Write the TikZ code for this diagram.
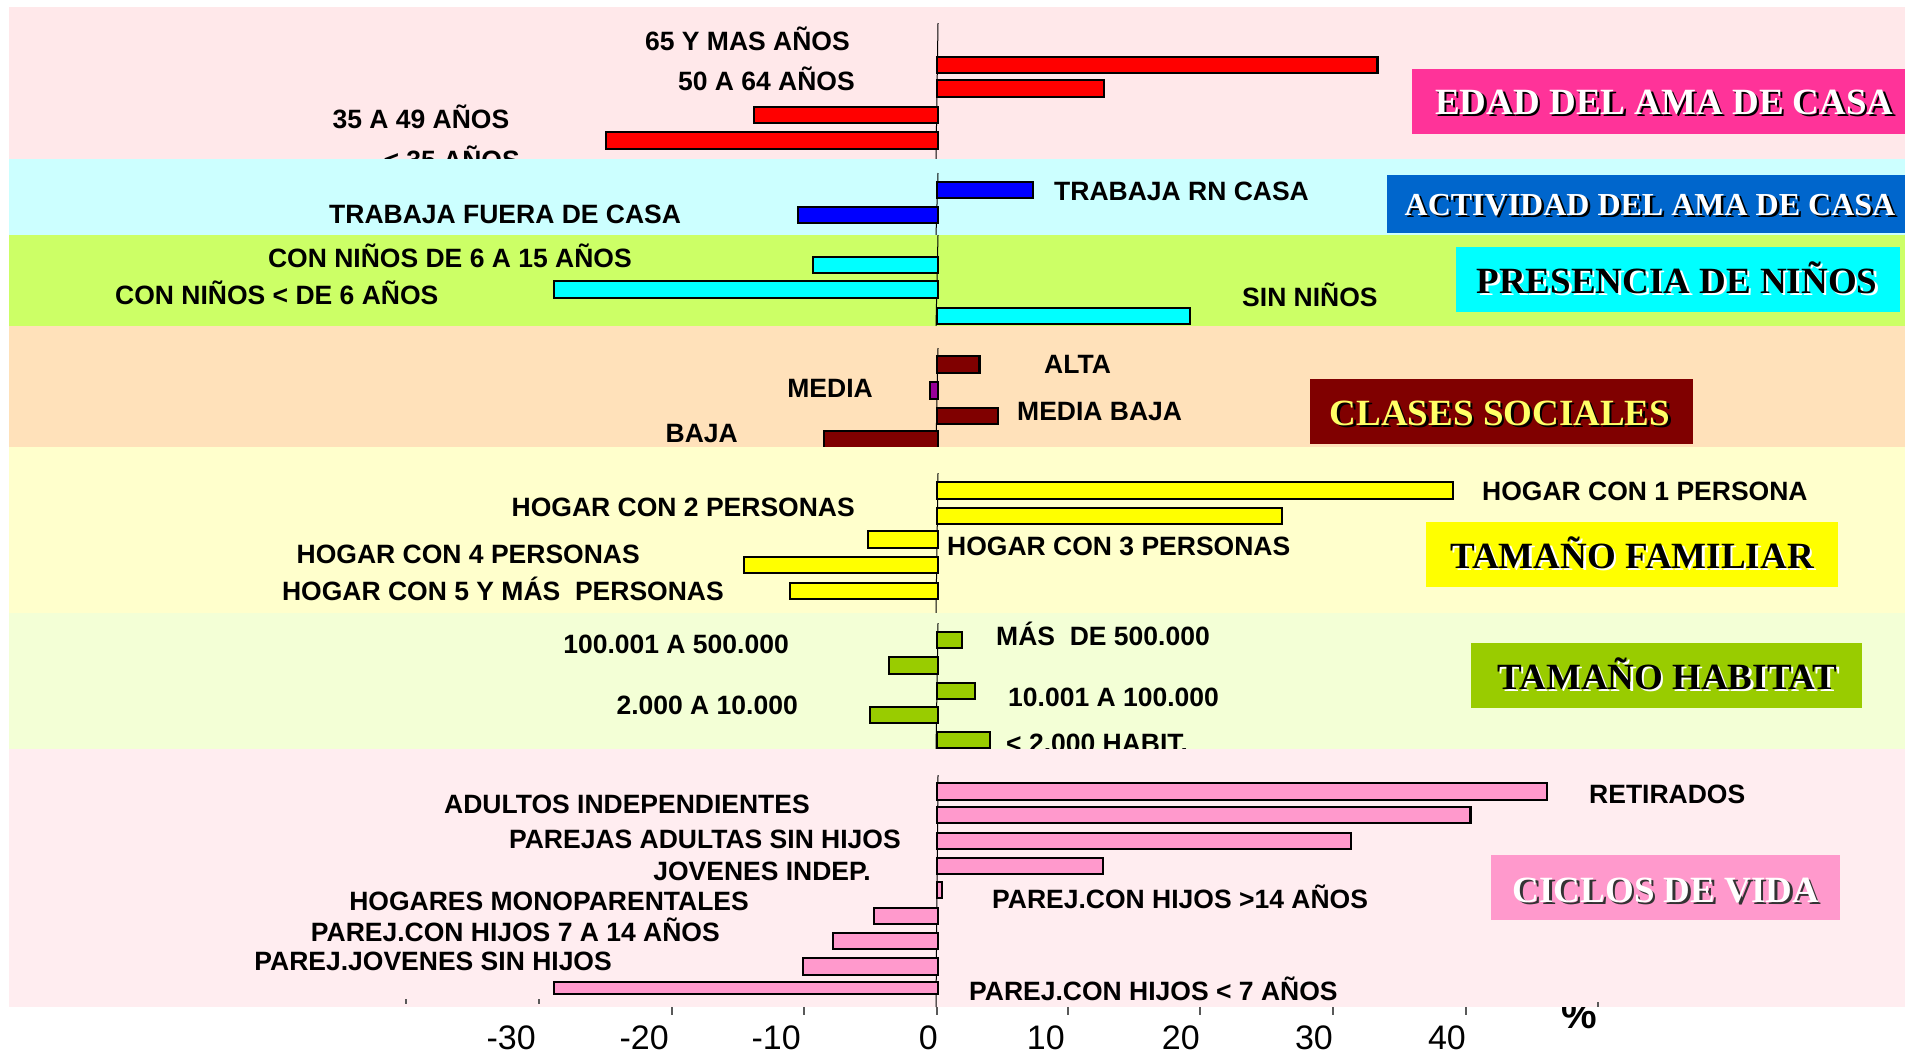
\documentclass[tikz,border=0pt]{standalone}
\usepackage{fontspec}
\setmainfont{Liberation Sans}
\newfontfamily\ttlfont{Liberation Serif}
\definecolor{bgA}{HTML}{FFE8EA}
\definecolor{bgB}{HTML}{CCFFFF}
\definecolor{bgC}{HTML}{CCFF66}
\definecolor{bgD}{HTML}{FFE1BA}
\definecolor{bgE}{HTML}{FFFFCC}
\definecolor{bgF}{HTML}{F3FFD6}
\definecolor{bgG}{HTML}{FFEDF0}
\definecolor{cRed}{HTML}{FF0000}
\definecolor{cBlue}{HTML}{0000FF}
\definecolor{cCyan}{HTML}{00FFFF}
\definecolor{cMaroon}{HTML}{800000}
\definecolor{cPurple}{HTML}{990099}
\definecolor{cYellow}{HTML}{FFFF00}
\definecolor{cGreen}{HTML}{99CC00}
\definecolor{cPink}{HTML}{FF99CC}
\definecolor{cMagenta}{HTML}{FF3399}
\definecolor{cActiv}{HTML}{0066CC}
\definecolor{cLtYellow}{HTML}{FFFF66}
\newcommand{\shtitle}[7]{%
  \node[#4, text=#6] (#1s) at (#2+2.5, #3+2.5) {#7};
  \node[#4, text=#5] (#1) at (#2, #3) {#7};}
\begin{document}
\begin{tikzpicture}[x=1pt, y=-1pt,
  bar/.style={draw=black, line width=2.3pt},
  lbl/.style={inner sep=0pt, font=\fontsize{26.5}{30}\selectfont\bfseries},
  lw/.style={lbl, anchor=base west},
  le/.style={lbl, anchor=base east},
  ttl/.style={inner sep=0pt, anchor=base, font=\ttlfont\fontsize{37}{40}\selectfont\bfseries},
  ttlsm/.style={inner sep=0pt, anchor=base, font=\ttlfont\fontsize{32}{36}\selectfont\bfseries},
  zero/.style={line width=1pt, black},
  tickm/.style={line width=1.5pt, black!65},
  num/.style={inner sep=0pt, anchor=base east, font=\fontsize{34}{38}\selectfont},
]
\useasboundingbox (0,0) rectangle (1905,1053);
\fill[white] (0,0) rectangle (1905,1053);

% ---------- Panel 1: EDAD ----------
\fill[bgA] (9,7) rectangle (1905,159);
\draw[zero] (938,23) -- (936,159);
\draw[bar, fill=cRed] (937,57) rectangle (1377.6,73);
\draw[bar, fill=cRed] (937,80) rectangle (1104,97);
\draw[bar, fill=cRed] (754,107) rectangle (938,123);
\draw[bar, fill=cRed] (606,132) rectangle (938,149);
\node[le] (l65) at (850,50) {65 Y MAS AÑOS};
\node[le] (l50) at (855,90.7) {50 A 64 AÑOS};
\node[le] (l35) at (509.5,128) {35 A 49 AÑOS};
\node[le] (l00) at (520,169) {< 35 AÑOS};
\fill[cMagenta] (1411.5,69) rectangle (1905,134);
\shtitle{tEdad}{1664.5}{114}{ttl}{white}{black}{EDAD DEL AMA DE CASA}

% ---------- Panel 2: ACTIVIDAD ----------
\fill[bgB] (9,159) rectangle (1905,235);
\draw[zero] (938,173) -- (936,235);
\draw[bar, fill=cBlue] (937,182) rectangle (1033,198);
\draw[bar, fill=cBlue] (798,207) rectangle (938,223);
\node[lw] (lrn) at (1054,200) {TRABAJA RN CASA};
\node[lw] (lfu) at (329,223) {TRABAJA FUERA DE CASA};
\fill[cActiv] (1387,175) rectangle (1905,233);
\shtitle{tActiv}{1650}{215}{ttlsm}{white}{black}{ACTIVIDAD DEL AMA DE CASA}

% ---------- Panel 3: PRESENCIA ----------
\fill[bgC] (9,235) rectangle (1905,326);
\draw[zero] (938,235) -- (936,326);
\draw[bar, fill=cCyan] (813,257) rectangle (938,273);
\draw[bar, fill=cCyan] (554,281) rectangle (938,298);
\draw[bar, fill=cCyan] (937,308) rectangle (1190,324);
\node[le] (ln615) at (632,267) {CON NIÑOS DE 6 A 15 AÑOS};
\node[lw] (ln6) at (115,304) {CON NIÑOS < DE 6 AÑOS};
\node[lw] (lsin) at (1242,306) {SIN NIÑOS};
\fill[cCyan] (1456,247) rectangle (1900,312);
\shtitle{tPres}{1677}{293}{ttl}{black}{white}{PRESENCIA DE NIÑOS}

% ---------- Panel 4: CLASES ----------
\fill[bgD] (9,326) rectangle (1905,447);
\draw[zero] (938,348) -- (936,447);
\draw[bar, fill=cMaroon] (937,356) rectangle (979.5,373);
\draw[bar, fill=cPurple, line width=1.5pt] (930,382) rectangle (938,399);
\draw[bar, fill=cMaroon] (937,408) rectangle (998,424);
\draw[bar, fill=cMaroon] (824,431) rectangle (938,450);
\node[lw] (lalta) at (1044,373) {ALTA};
\node[le] (lmedia) at (873,397) {MEDIA};
\node[lw] (lmb) at (1017,420) {MEDIA BAJA};
\node[le] (lbaja) at (738,442) {BAJA};
\fill[cMaroon] (1310,379) rectangle (1693,444);
\shtitle{tClases}{1500}{425}{ttl}{cLtYellow}{black}{CLASES SOCIALES}

% ---------- Panel 5: TAMAÑO FAMILIAR ----------
\fill[bgE] (9,447) rectangle (1905,613);
\draw[zero] (938,473) -- (936,613);
\draw[bar, fill=cYellow] (937,482) rectangle (1453,499);
\draw[bar, fill=cYellow] (937,508) rectangle (1282,524);
\draw[bar, fill=cYellow] (868,531) rectangle (938,548);
\draw[bar, fill=cYellow] (744,557) rectangle (938,573);
\draw[bar, fill=cYellow] (790,583) rectangle (938,599);
\node[lw] (lh1) at (1482,500.7) {HOGAR CON 1 PERSONA};
\node[le] (lh2) at (855,516.7) {HOGAR CON 2 PERSONAS};
\node[lw] (lh3) at (947,555) {HOGAR CON 3 PERSONAS};
\node[le] (lh4) at (640,563) {HOGAR CON 4 PERSONAS};
\node[le] (lh5) at (724,600.7) {HOGAR CON 5 Y MÁS~ PERSONAS};
\fill[cYellow] (1426,522) rectangle (1838,587);
\shtitle{tFam}{1632}{568}{ttl}{black}{white}{TAMAÑO FAMILIAR}

% ---------- Panel 6: TAMAÑO HABITAT ----------
\fill[bgF] (9,613) rectangle (1905,749);
\draw[zero] (938,623) -- (936,749);
\draw[bar, fill=cGreen] (937,632) rectangle (962,648);
\draw[bar, fill=cGreen] (889,657) rectangle (938,674);
\draw[bar, fill=cGreen] (937,683) rectangle (975,699);
\draw[bar, fill=cGreen] (870,707) rectangle (938,723);
\draw[bar, fill=cGreen] (937,732) rectangle (990,748);
\node[lw] (lm500) at (996,645) {MÁS~ DE 500.000};
\node[le] (l100) at (789,653) {100.001 A 500.000};
\node[lw] (l10) at (1008,706.7) {10.001 A 100.000};
\node[le] (l2) at (798,714) {2.000 A 10.000};
\node[lw] (lm2) at (1006,752) {< 2.000 HABIT.};
\fill[cGreen] (1471,643) rectangle (1862,708);
\shtitle{tHab}{1667.5}{689}{ttl}{black}{white}{TAMAÑO HABITAT}

% ---------- Percent label (partly hidden) ----------
\node[inner sep=0pt, anchor=base east, font=\fontsize{40}{44}\selectfont\bfseries] (pct) at (1597,1028) {\%};

% ---------- Panel 7: CICLOS DE VIDA ----------
\fill[bgG] (9,749) rectangle (1905,1007);
\draw[zero] (938,775) -- (936,1007);
\draw[bar, fill=cPink] (937,783) rectangle (1547,800);
\draw[bar, fill=cPink] (937,807) rectangle (1470.5,823);
\draw[bar, fill=cPink] (937,833) rectangle (1351,849);
\draw[bar, fill=cPink] (937,858) rectangle (1103,874);
\draw[bar, fill=cPink, line width=1.5pt] (937,882) rectangle (942,898);
\draw[bar, fill=cPink] (874,908) rectangle (938,924);
\draw[bar, fill=cPink] (833,933) rectangle (938,949);
\draw[bar, fill=cPink] (803,958) rectangle (938,975);
\draw[bar, fill=cPink] (554,982) rectangle (938,994);
\node[lw] (lret) at (1589,803) {RETIRADOS};
\node[le] (lai) at (810,813) {ADULTOS INDEPENDIENTES};
\node[le] (lpa) at (901,848) {PAREJAS ADULTAS SIN HIJOS};
\node[le] (lji) at (871,880) {JOVENES INDEP.};
\node[le] (lhm) at (749,910.7) {HOGARES MONOPARENTALES};
\node[le] (lp714) at (720,941.7) {PAREJ.CON HIJOS 7 A 14 AÑOS};
\node[le] (lpj) at (612,970.7) {PAREJ.JOVENES SIN HIJOS};
\node[lw] (lp14) at (992,908.3) {PAREJ.CON HIJOS >14 AÑOS};
\node[lw] (lp7) at (969,1000) {PAREJ.CON HIJOS < 7 AÑOS};
\fill[cPink] (1491,855) rectangle (1840,920);
\shtitle{tCic}{1666}{902}{ttl}{white}{black!80}{CICLOS DE VIDA}

% ---------- Axis ticks and numbers ----------
\foreach \tx in {406,539} \draw[tickm] (\tx,999) -- (\tx,1004);
\draw[tickm] (1598,1002) -- (1598,1007);
\foreach \tx in {672,804,937,1068,1200,1333,1466} \draw[tickm] (\tx,1007) -- (\tx,1015);
\node[num] (n30m) at (536,1049) {-30};
\node[num] (n20m) at (669,1049) {-20};
\node[num] (n10m) at (801,1049) {-10};
\node[num] (n0) at (938,1049) {0};
\node[num] (n10) at (1065,1049) {10};
\node[num] (n20) at (1200,1049) {20};
\node[num] (n30) at (1333,1049) {30};
\node[num] (n40) at (1466,1049) {40};
\end{tikzpicture}
\end{document}
